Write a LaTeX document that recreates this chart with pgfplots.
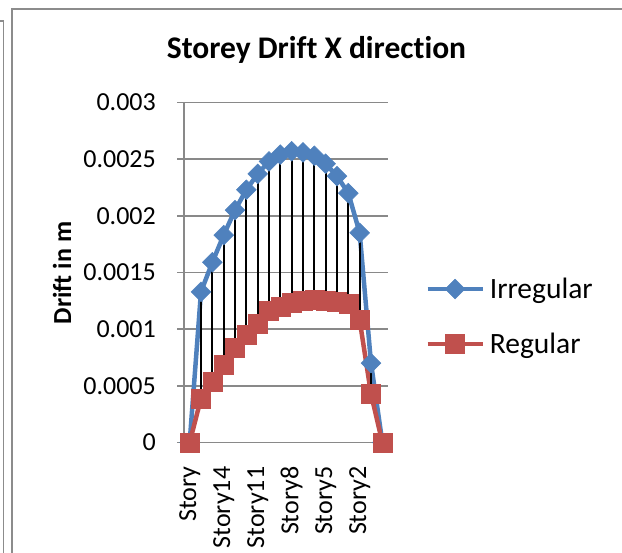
\documentclass[border=0pt]{standalone}
\usepackage{fontspec}
\setmainfont{Carlito}[Ligatures=NoCommon]
\usepackage{pgfplots}
\usepackage{pgfplotstable}
\pgfplotsset{compat=1.18}

\definecolor{irrblue}{HTML}{4F81BD}
\definecolor{regred}{HTML}{C0504D}
\definecolor{gridgray}{HTML}{898989}
\definecolor{framegray}{HTML}{8C8C8C}

% storey drift, X direction (m)
\pgfplotstableread{
x  irr      reg
0  0        0
1  0.00133  0.00039
2  0.00159  0.00054
3  0.00183  0.00069
4  0.00205  0.00084
5  0.00223  0.00095
6  0.00237  0.00105
7  0.00248  0.00116
8  0.00254  0.00120
9  0.00257  0.00123
10 0.00256  0.00125
11 0.00253  0.00126
12 0.00246  0.00125
13 0.00235  0.00124
14 0.00220  0.00122
15 0.00185  0.00108
16 0.00070  0.00043
17 0        0
}\drift

\begin{document}
\begin{tikzpicture}
\path[use as bounding box] (0,0) rectangle (622bp,553bp);
\draw[framegray, line width=1.2bp] (12bp,0) -- (12bp,544bp) -- (622bp,544bp);
\draw[framegray, line width=1.2bp] (0,532bp) -- (3.5bp,532bp) -- (3.5bp,0);

\node[font=\bfseries\fontsize{31.5bp}{36bp}\selectfont, anchor=base]
  at (316.5bp,494.7bp) {Storey Drift X direction};
\node[font=\bfseries\fontsize{26bp}{30bp}\selectfont, rotate=90]
  at (62bp,280bp) {Drift in m};

\begin{axis}[
  at={(184bp,110.5bp)}, anchor=south west,
  scale only axis, width=204bp, height=340bp,
  xmin=-0.5, xmax=17.5, ymin=0, ymax=0.003,
  axis x line*=bottom, axis y line*=left,
  axis line style={-, gridgray, line width=1.5bp},
  scaled y ticks=false,
  ytick={0,0.0005,0.001,0.0015,0.002,0.0025,0.003},
  yticklabels={0,0.0005,0.001,0.0015,0.002,0.0025,0.003},
  xtick={0,3,6,9,12,15},
  xticklabels={Story,Story14,Story11,Story8,Story5,Story2},
  ymajorgrids, grid style={gridgray, line width=1.5bp},
  tick align=outside, major tick length=7bp,
  ytick style={gridgray, line width=1.5bp},
  xtick style={draw=none},
  tick label style={font=\fontsize{26bp}{30bp}\selectfont, text=black},
  yticklabel style={anchor=east, inner sep=0pt, xshift=-21bp},
  xticklabel style={yshift=-17bp, rotate=90, anchor=east, inner sep=0pt},
  clip=false,
  legend style={draw=none, fill=none, at={(1.182,0.3706)}, anchor=west,
    inner sep=0pt, font=\fontsize{29.5bp}{35bp}\selectfont,
    row sep=33bp, column sep=5bp, nodes={inner sep=0pt}},
  legend cell align=left,
  legend image code/.code={\draw[#1, mark repeat=2, mark phase=2]
    plot coordinates {(0bp,0bp)(27.5bp,0bp)(55bp,0bp)};},
]
\addplot[irrblue, line width=4.5bp, mark=square*, mark size=7bp,
  mark options={solid, rotate=45, line width=0.5bp, fill=irrblue}]
  table[x=x, y=irr] {\drift};
\addlegendentry{Irregular}
\addplot[regred, line width=4.5bp, mark=square*, mark size=9.5bp,
  mark options={solid, line width=0.5bp, fill=regred}]
  table[x=x, y=reg] {\drift};
\addlegendentry{Regular}
% high-low lines between the two series
\addplot[draw=none, forget plot, error bars/.cd, y dir=plus, y explicit,
  error mark=none, error bar style={black, line width=1.8bp}]
  table[x=x, y=reg, y error expr=\thisrow{irr}-\thisrow{reg}] {\drift};
\end{axis}
\end{tikzpicture}
\end{document}
